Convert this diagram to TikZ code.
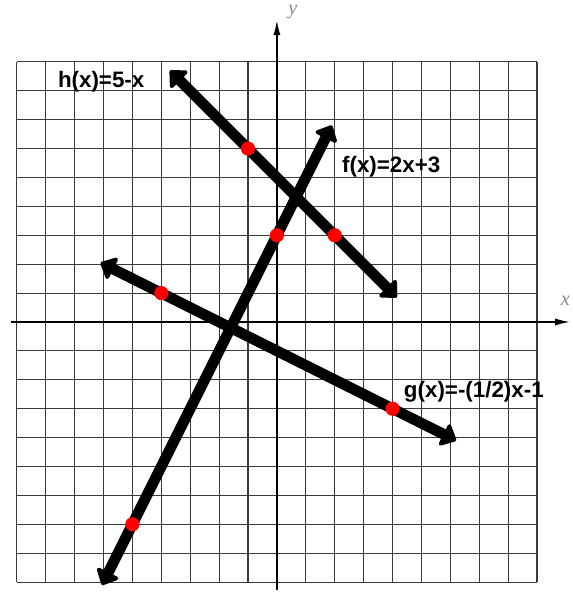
\documentclass[tikz,border=0pt]{standalone}
\usepackage{fontspec}
\setmainfont{Liberation Sans}
\newfontfamily\axisfont{Liberation Serif}
\usepackage{tikz}
\usetikzlibrary{arrows.meta}
\usepackage{xcolor}
\definecolor{gridgray}{HTML}{3A3A3A}
\definecolor{dotred}{HTML}{FF0000}
\definecolor{axgray}{HTML}{8A8A8A}

\begin{document}
\begin{tikzpicture}[
    gridline/.style={draw=gridgray, line width=1.1pt},
    axis/.style={draw=black, line width=1.8pt, -{Latex[length=15pt,width=7pt]}},
    fnline/.style={draw=black, line width=10.5pt,
        {Triangle[length=15pt,width=27pt,round]}-{Triangle[length=15pt,width=27pt,round]}},
    dot/.style={circle, fill=dotred, inner sep=0pt, minimum size=14pt},
    fnlabel/.style={anchor=base west, inner sep=0pt, font=\fontsize{22}{24}\selectfont\bfseries},
    axlabel/.style={text=axgray, font=\axisfont\fontsize{20}{20}\selectfont\itshape}
]
    \useasboundingbox (-9.58, -9.48) rectangle (10.21, 11.14);

    \draw[gridline] (-9, -9) grid (9, 9);

    \coordinate (xl) at (-9.2, 0);
    \coordinate (xr) at (10.15, 0);
    \coordinate (yb) at (0, -9.27);
    \coordinate (yt) at (0, 10.45);
    \draw[axis] (xl) -- (xr);
    \draw[axis] (yb) -- (yt);
    \node[axlabel] (ylab) at (0.55, 10.72) {y};
    \node[axlabel] (xlab) at (9.98, 0.72) {x};

    % h(x)=5-x
    \coordinate (hs) at (-3.7, 8.7);
    \coordinate (he) at (4.15, 0.85);
    \draw[fnline] (hs) -- (he);
    % f(x)=2x+3
    \coordinate (fs) at (-6.05, -9.1);
    \coordinate (fe) at (1.9, 6.8);
    \draw[fnline] (fs) -- (fe);
    % g(x)=-(1/2)x-1
    \coordinate (gs) at (-6.1, 2.05);
    \coordinate (ge) at (6.2, -4.1);
    \draw[fnline] (gs) -- (ge);

    \node[dot] (h1) at (-1, 6) {};
    \node[dot] (h2) at (2, 3) {};
    \node[dot] (f1) at (0, 3) {};
    \node[dot] (f2) at (-5, -7) {};
    \node[dot] (g1) at (-4, 1) {};
    \node[dot] (g2) at (4, -3) {};

    \node[fnlabel] (hlab) at (-7.58, 8.1) {h(x)=5-x};
    \node[fnlabel] (flab) at (2.25, 5.16) {f(x)=2x+3};
    \node[fnlabel] (glab) at (4.39, -2.6) {g(x)=-(1/2)x-1};
\end{tikzpicture}
\end{document}
